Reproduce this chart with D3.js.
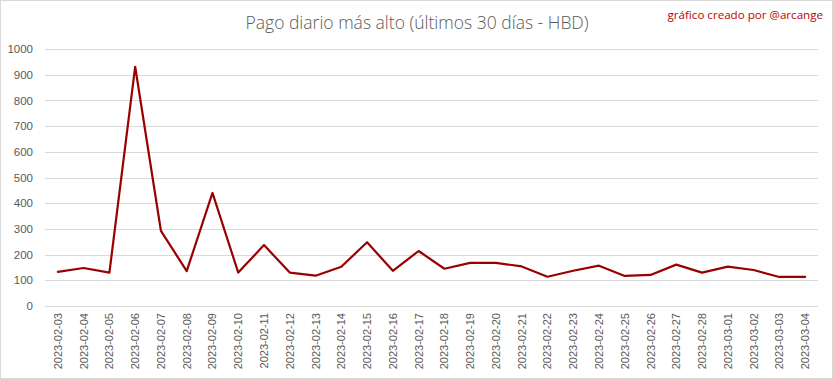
<!DOCTYPE html>
<html><head><meta charset="utf-8">
<script src="https://cdn.jsdelivr.net/npm/d3@7"></script>
<style>html,body{margin:0;padding:0;background:#fff;}svg{display:block;}</style>
</head><body>
<script>
const dates = ["2023-02-03","2023-02-04","2023-02-05","2023-02-06","2023-02-07","2023-02-08","2023-02-09","2023-02-10","2023-02-11","2023-02-12","2023-02-13","2023-02-14","2023-02-15","2023-02-16","2023-02-17","2023-02-18","2023-02-19","2023-02-20","2023-02-21","2023-02-22","2023-02-23","2023-02-24","2023-02-25","2023-02-26","2023-02-27","2023-02-28","2023-03-01","2023-03-02","2023-03-03","2023-03-04"];
const values = [133,148,130,931,292,136,440,130,237,130,118,153,248,137,214,145,168,168,154,114,137,157,117,121,161,130,153,140,113,113];
const yTicks = [0,100,200,300,400,500,600,700,800,900,1000];
const chartTitle = "Pago diario más alto (últimos 30 días - HBD)";
const credit = "gráfico creado por @arcange";

(function(){
const W = 833, H = 379;
const svg = d3.select("body").append("svg").attr("width", W).attr("height", H);
svg.append("rect").attr("x",0.5).attr("y",0.5).attr("width",W-1).attr("height",H-1)
  .attr("fill","#fff").attr("stroke","#d9d9d9");

const mL = 45, mR = 818, mT = 49, mB = 306;
const x = d3.scaleBand().domain(dates).range([mL, mR]);
const y = d3.scaleLinear().domain([0, 1000]).range([mB, mT]);

svg.append("g").selectAll("line").data(yTicks).join("line")
  .attr("x1", mL).attr("x2", mR)
  .attr("y1", d => Math.round(y(d)) + 0.5).attr("y2", d => Math.round(y(d)) + 0.5)
  .attr("stroke", "#d9d9d9").attr("stroke-width", 1);

const yAxis = d3.axisLeft(y).tickValues(yTicks).tickFormat(d3.format("d")).tickSize(0).tickPadding(0);
const gy = svg.append("g").attr("transform", `translate(33,0)`).call(yAxis);
gy.select(".domain").remove();
gy.selectAll("text").attr("fill", "#595959").style("font-family", "'Liberation Sans', Arial, sans-serif").style("font-size", "11.5px");

const xAxis = d3.axisBottom(x).tickSize(0).tickPadding(0);
const gx = svg.append("g").attr("transform", `translate(0,${mB})`).call(xAxis);
gx.select(".domain").remove();
gx.selectAll("text")
  .attr("fill", "#595959")
  .style("font-family", "'Liberation Sans', Arial, sans-serif").style("font-size", "11px")
  .attr("text-anchor", "end")
  .attr("transform", "translate(4,7) rotate(-90)")
  .attr("dy", 0).attr("y", 0).attr("x", 0);

const line = d3.line().x((d, i) => x(dates[i]) + x.bandwidth() / 2).y(d => y(d));
svg.append("path").datum(values).attr("d", line)
  .attr("fill", "none").attr("stroke", "#990000").attr("stroke-width", 2.2)
  .attr("stroke-linejoin", "round").attr("stroke-linecap", "round");

svg.append("text").attr("x", 417).attr("y", 29).attr("text-anchor", "middle")
  .attr("fill", "#595959").style("font-family", "'Open Sans', sans-serif").style("font-size", "17.5px")
  .style("font-weight", "300")
  .text(chartTitle);

svg.append("text").attr("x", 823).attr("y", 19).attr("text-anchor", "end")
  .attr("fill", "#c00000").style("font-family", "'Open Sans', sans-serif").style("font-size", "11.6px")
  .text(credit);
})();
</script>
</body></html>
